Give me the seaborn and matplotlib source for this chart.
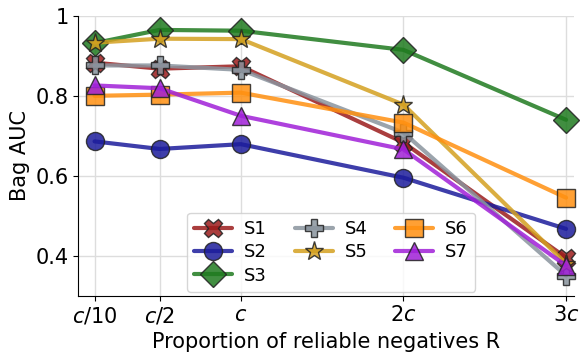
import matplotlib
matplotlib.use("Agg")
import matplotlib.pyplot as plt
import seaborn as sns
import pandas as pd

# proportion of reliable negatives, in units of c
x_vals = [0.1, 0.5, 1.0, 2.0, 3.0]
x_labels = ["$c/10$", "$c/2$", "$c$", "$2c$", "$3c$"]

s1 = [0.883, 0.868, 0.874, 0.683, 0.395]
s2 = [0.686, 0.667, 0.679, 0.595, 0.467]
s3 = [0.932, 0.965, 0.963, 0.915, 0.740]
s4 = [0.876, 0.876, 0.865, 0.708, 0.350]
s5 = [0.933, 0.943, 0.942, 0.778, 0.380]
s6 = [0.800, 0.803, 0.808, 0.733, 0.545]
s7 = [0.826, 0.819, 0.750, 0.666, 0.375]

names = ["S1", "S2", "S3", "S4", "S5", "S6", "S7"]
series = [s1, s2, s3, s4, s5, s6, s7]
colors = ["#9b1c1c", "#1c1c9b", "#1f7a1f", "#8a949e", "#d4a020", "#ff9010", "#a020d8"]
markers = ["X", "o", "D", "P", "*", "s", "^"]
sizes = [13, 13, 13, 13, 14, 13, 13]


def main():
    sns.set_style("ticks")
    plt.rcParams["font.family"] = ["DejaVu Sans"]
    plt.rcParams["mathtext.fontset"] = "dejavusans"
    for key in ["text.color", "axes.labelcolor", "xtick.color", "ytick.color", "axes.edgecolor"]:
        plt.rcParams[key] = "black"

    fig, ax = plt.subplots(figsize=(5.8, 3.54), dpi=100)

    for name, vals, col, mk, ms in zip(names, series, colors, markers, sizes):
        df = pd.DataFrame({"x": x_vals, "auc": vals})
        sns.lineplot(data=df, x="x", y="auc", ax=ax, color=col, marker=mk,
                     markersize=ms, markeredgecolor="#222222", markeredgewidth=1.0,
                     linewidth=3, alpha=0.85, label=name, clip_on=False)

    ax.set_xlim(0, 3.05)
    ax.set_ylim(0.3, 1.0)
    ax.set_xticks(x_vals)
    ax.set_xticklabels(x_labels, fontsize=15)
    ax.set_yticks([0.4, 0.6, 0.8, 1.0])
    ax.set_yticklabels(["0.4", "0.6", "0.8", "1"], fontsize=15)
    ax.grid(True, color="#dddddd", linewidth=1)
    ax.set_axisbelow(True)
    sns.despine(ax=ax)

    ax.set_xlabel("Proportion of reliable negatives R", fontsize=15)
    ax.set_ylabel("Bag AUC", fontsize=15)

    ax.legend(ncol=3, loc="lower center", fontsize=13, handlelength=2.1,
              columnspacing=1.55, handletextpad=0.65, labelspacing=0.3,
              borderaxespad=0.2, bbox_to_anchor=(0.51, 0.0))

    fig.subplots_adjust(left=0.135, right=0.99, top=0.955, bottom=0.165)
    fig.savefig("out.png", dpi=100)
    plt.close(fig)


if __name__ == "__main__":
    main()
